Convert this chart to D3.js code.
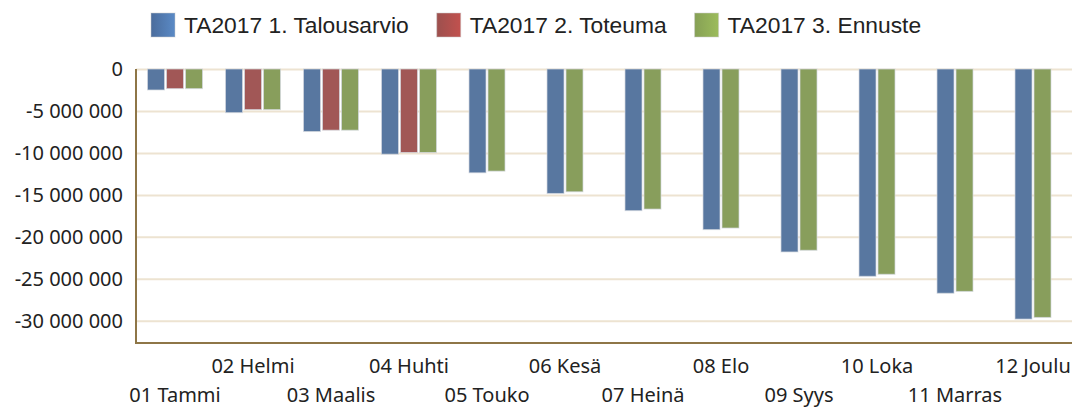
<!DOCTYPE html>
<html>
<head>
<meta charset="utf-8">
<script src="https://cdn.jsdelivr.net/npm/d3@7"></script>
<style>
  body { margin: 0; background: #fff; }
  .axis text { font-family: "Noto Sans", "Open Sans", sans-serif; font-size: 20px; fill: #222; }
  .legend text { font-family: "Liberation Sans", Arial, sans-serif; font-size: 22.8px; fill: #222; }
</style>
</head>
<body>
<script>
var months = ["01 Tammi", "02 Helmi", "03 Maalis", "04 Huhti", "05 Touko", "06 Kesä",
              "07 Heinä", "08 Elo", "09 Syys", "10 Loka", "11 Marras", "12 Joulu"];

var seriesNames = ["TA2017 1. Talousarvio", "TA2017 2. Toteuma", "TA2017 3. Ennuste"];

var talousarvio = [-2500000, -5200000, -7450000, -10150000, -12370000, -14830000,
                   -16880000, -19140000, -21800000, -24700000, -26720000, -29800000];
var toteuma = [-2340000, -4840000, -7290000, -9950000, null, null,
               null, null, null, null, null, null];
var ennuste = [-2340000, -4840000, -7290000, -9950000, -12170000, -14630000,
               -16690000, -18950000, -21600000, -24460000, -26500000, -29600000];

var yTicks = [0, -5000000, -10000000, -15000000, -20000000, -25000000, -30000000];

var colors = ["#5877a0", "#a15756", "#889e5c"];
var legendColors = [["#4a6c9c", "#5a8ac6"], ["#9c504e", "#c2514e"], ["#86a055", "#9cbc5b"]];

var W = 1077, H = 408;
var margin = {top: 69, right: 5, bottom: 65, left: 136},
    width = W - margin.left - margin.right,
    height = H - margin.top - margin.bottom;

var svg = d3.select("body").append("svg")
    .attr("width", W)
    .attr("height", H);

var defs = svg.append("defs");
legendColors.forEach(function(c, i) {
  var g = defs.append("linearGradient").attr("id", "lg" + i);
  g.append("stop").attr("offset", "0%").attr("stop-color", c[0]);
  g.append("stop").attr("offset", "100%").attr("stop-color", c[1]);
});

var g = svg.append("g")
    .attr("transform", "translate(" + margin.left + "," + margin.top + ")");

var x = d3.scaleBand()
    .domain(months)
    .range([0, width]);

var y = d3.scaleLinear()
    .domain([-32650000, 0])
    .range([height, 0]);

var locale = d3.formatLocale({decimal: ",", thousands: " ", grouping: [3], currency: ["", ""], minus: "-"});
var fmt = locale.format(",d");

// gridlines
g.append("g")
    .attr("class", "grid")
    .call(d3.axisLeft(y).tickValues(yTicks).tickSize(-width).tickFormat(""))
    .call(function(s) {
      s.select(".domain").remove();
      s.selectAll("line").attr("stroke", "#ede3d1").attr("stroke-width", 2);
    });

// bars, each month's present series centred in its band
var rows = months.map(function(m, i) {
  var vals = [talousarvio[i], toteuma[i], ennuste[i]];
  var items = [];
  vals.forEach(function(v, k) { if (v != null) items.push({month: m, k: k, value: v}); });
  return items;
});

var step = 19;
rows.forEach(function(items) {
  var n = items.length;
  var inner = d3.scaleBand()
      .domain(items.map(function(d) { return d.k; }))
      .range([-(step * n - 2) / 2, (step * n - 2) / 2])
      .paddingInner(2 / step);
  g.selectAll(null)
      .data(items)
    .enter().append("rect")
      .attr("x", function(d) { return x(d.month) + x.bandwidth() / 2 + inner(d.k); })
      .attr("width", inner.bandwidth())
      .attr("y", y(0))
      .attr("height", function(d) { return y(d.value) - y(0); })
      .attr("fill", function(d) { return colors[d.k]; })
      .attr("stroke", "#d4d9e0")
      .attr("stroke-opacity", 0.7)
      .attr("stroke-width", 1);
});

// y axis
g.append("g")
    .attr("class", "axis")
    .call(d3.axisLeft(y).tickValues(yTicks).tickSize(0).tickPadding(13).tickFormat(fmt))
    .call(function(s) { s.select(".domain").remove(); });

// x axis, labels staggered in two rows
g.append("g")
    .attr("class", "axis")
    .attr("transform", "translate(0," + height + ")")
    .call(d3.axisBottom(x).tickSize(0))
    .call(function(s) {
      s.select(".domain").remove();
      s.selectAll("text")
        .attr("dy", null)
        .attr("y", function(d, i) { return i % 2 === 1 ? 29.5 : 58.5; });
    });

// axis lines
g.append("line")
    .attr("x1", 0).attr("x2", 0).attr("y1", 0).attr("y2", height + 1)
    .attr("stroke", "#8e7647").attr("stroke-width", 2);
g.append("line")
    .attr("x1", -1).attr("x2", width).attr("y1", height).attr("y2", height)
    .attr("stroke", "#8e7647").attr("stroke-width", 2);

// legend
var legend = svg.append("g").attr("class", "legend");
var items = legend.selectAll("g")
    .data(seriesNames)
  .enter().append("g");
items.append("rect")
    .attr("width", 24).attr("height", 24)
    .attr("y", 13)
    .attr("fill", function(d, i) { return "url(#lg" + i + ")"; })
    .attr("stroke", "#ccc").attr("stroke-opacity", 0.5);
items.append("text")
    .attr("x", 33)
    .attr("y", 33)
    .text(function(d) { return d; });

var pos = 0;
items.each(function() {
  var w = 33 + d3.select(this).select("text").node().getComputedTextLength();
  d3.select(this).attr("transform", "translate(" + pos + ",0)");
  pos += w + 28;
});
var total = pos - 28;
legend.attr("transform", "translate(" + Math.round(536.5 - total / 2) + ",0)");
</script>
</body>
</html>
